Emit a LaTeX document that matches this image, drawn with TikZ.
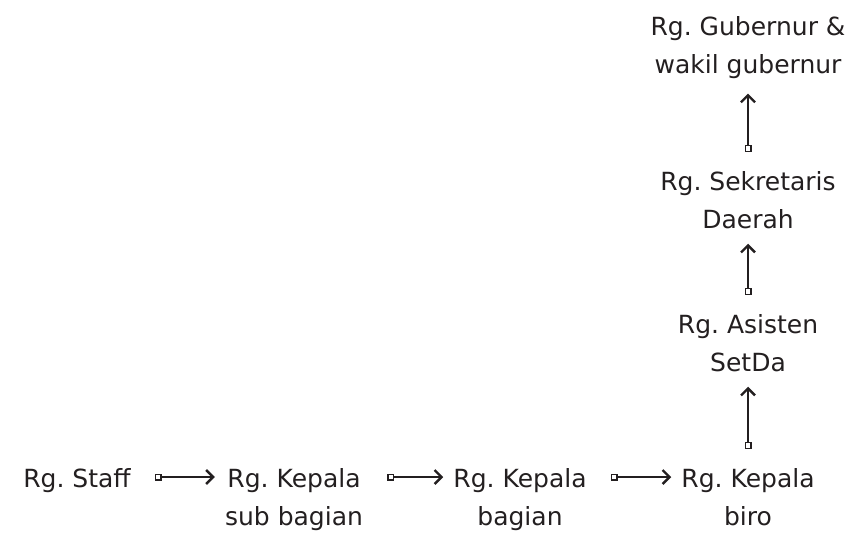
\documentclass[tikz,border=0pt]{standalone}
\usepackage{fontspec}
\setmainfont{DejaVu Sans}
\usepackage{tikz}
\usetikzlibrary{arrows.meta}
\definecolor{ink}{HTML}{231F20}
\frenchspacing

\tikzset{
  room/.style={anchor=north,inner sep=0pt,align=center,text=ink,font=\fontsize{25}{38}\selectfont},
  link/.style={ink,line width=2.4pt,
    {Square[open,length=7pt,width=7pt,line width=1.4pt]}-{Straight Barb[length=7pt,width=14pt]},
    shorten <=24pt,shorten >=10pt},
  uplink/.style={link,shorten <=19pt,shorten >=15pt}
}

\begin{document}
\begin{tikzpicture}[x=1pt,y=-1pt]
\useasboundingbox (0,0) rectangle (853,534);

% bottom row
\node[room] (staff) at (77,468) {Rg. Staff};
\node[room] (ksub) at (294,468) {Rg. Kepala\\sub bagian};
\node[room] (kbag) at (520,468) {Rg. Kepala\\bagian};
\node[room] (kbiro) at (748,468) {Rg. Kepala\\biro};

% right column
\node[room] (asisten) at (748,314) {Rg. Asisten\\SetDa};
\node[room] (sekda) at (748,171) {Rg. Sekretaris\\Daerah};
\node[room] (gub) at (748,16) {Rg. Gubernur \&\\wakil gubernur};

\draw[link] ([yshift=-9pt]staff.north east) -- ([yshift=-9pt]ksub.north west);
\draw[link] ([yshift=-9pt]ksub.north east) -- ([yshift=-9pt]kbag.north west);
\draw[link] ([yshift=-9pt]kbag.north east) -- ([yshift=-9pt]kbiro.north west);

\draw[uplink] (kbiro.north) -- (asisten.south);
\draw[uplink] (asisten.north) -- (sekda.south);
\draw[uplink] (sekda.north) -- (gub.south);
\end{tikzpicture}
\end{document}
